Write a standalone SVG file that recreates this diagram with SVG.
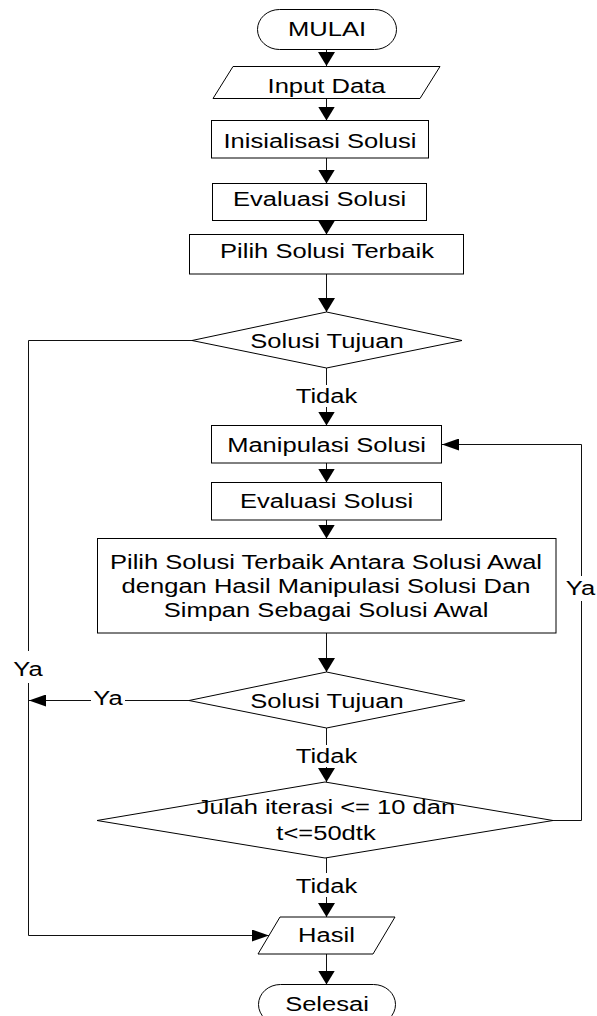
<svg xmlns="http://www.w3.org/2000/svg" width="597" height="1016" viewBox="0 0 597 1016">
<style>
.s{fill:#fff;stroke:#000;stroke-width:1}
.c{fill:none;stroke:#111;stroke-width:1}
.cd{marker-end:url(#ad)}
.ch{marker-end:url(#ah)}
text{font-family:"Liberation Sans",Arial,sans-serif;font-size:19.5px;fill:#000;text-anchor:middle}
</style>
<defs>
<marker id="ad" markerUnits="userSpaceOnUse" markerWidth="14" markerHeight="17" viewBox="0 0 14 17" refX="14" refY="8.5" orient="auto"><path d="M0,0 L14,8.5 L0,17 z" fill="#000"/></marker>
<marker id="ah" markerUnits="userSpaceOnUse" markerWidth="17" markerHeight="12" viewBox="0 0 17 12" refX="17" refY="6" orient="auto"><path d="M0,0 L17,6 L0,12 z" fill="#000"/></marker>
</defs>
<rect width="597" height="1016" fill="#fff"/>
<g id="connectors">
<path class="c cd" d="M326.5,49 V66"/>
<path class="c cd" d="M326.5,98 V120.5"/>
<path class="c cd" d="M326.5,158 V183.5"/>
<path class="c cd" d="M326.5,221 V234.5"/>
<path class="c cd" d="M326.5,274 V312"/>
<path class="c cd" d="M326.5,368 V385 M326.5,407 V425.5"/>
<path class="c cd" d="M326.5,463 V482.5"/>
<path class="c cd" d="M326.5,520 V538.5"/>
<path class="c cd" d="M326.5,633 V672"/>
<path class="c cd" d="M326.5,728 V745 M326.5,767 V782"/>
<path class="c cd" d="M326.5,858 V873 M326.5,897 V917"/>
<path class="c cd" d="M326.5,954 V984.5"/>
<path class="c ch" d="M192,340.5 H28.5 V651 M28.5,683 V935.5 H269"/>
<path class="c ch" d="M189,700.5 H125 M91,700.5 H29"/>
<path class="c ch" d="M553,820.5 H581.5 V601 M581.5,576 V444.5 H442"/>
<text transform="translate(326.5 403) scale(1.31 1)">Tidak</text>
<text transform="translate(326.5 763) scale(1.31 1)">Tidak</text>
<text transform="translate(326.5 893) scale(1.31 1)">Tidak</text>
<text transform="translate(28 676) scale(1.31 1)">Ya</text>
<text transform="translate(108 705) scale(1.31 1)">Ya</text>
<text transform="translate(580.5 595) scale(1.31 1)">Ya</text>
</g>
<g id="mulai">
<rect class="s" x="257.5" y="9.5" width="139" height="40" rx="22" ry="20"/>
<text transform="translate(327 35.5) scale(1.31 1)">MULAI</text>
</g>
<g id="input-data">
<polygon class="s" points="233,66.5 440,66.5 420,98.5 213,98.5"/>
<text transform="translate(326.5 92.5) scale(1.31 1)">Input Data</text>
</g>
<g id="inisialisasi">
<rect class="s" x="211.5" y="120.5" width="217" height="37.5"/>
<text transform="translate(320 148) scale(1.31 1)">Inisialisasi Solusi</text>
</g>
<g id="evaluasi1">
<rect class="s" x="212.5" y="183.5" width="214" height="37"/>
<text transform="translate(319.5 205.5) scale(1.31 1)">Evaluasi Solusi</text>
</g>
<g id="pilih">
<rect class="s" x="189.5" y="234.5" width="274" height="39.5"/>
<text transform="translate(327 257.5) scale(1.31 1)">Pilih Solusi Terbaik</text>
</g>
<g id="tujuan1">
<polygon class="s" points="326.5,312 462,340.5 326.5,368 192,340.5"/>
<text transform="translate(327 347.5) scale(1.31 1)">Solusi Tujuan</text>
</g>
<g id="manipulasi">
<rect class="s" x="211.5" y="425.5" width="230" height="37.5"/>
<text transform="translate(326.5 452) scale(1.31 1)">Manipulasi Solusi</text>
</g>
<g id="evaluasi2">
<rect class="s" x="211.5" y="482.5" width="230" height="37.5"/>
<text transform="translate(326.5 507.5) scale(1.31 1)">Evaluasi Solusi</text>
</g>
<g id="pilih-antara">
<rect class="s" x="97.5" y="538.5" width="458.5" height="94.5"/>
<text transform="translate(326 568.5) scale(1.31 1)">Pilih Solusi Terbaik Antara Solusi Awal</text>
<text transform="translate(326 592.5) scale(1.31 1)">dengan Hasil Manipulasi Solusi Dan</text>
<text transform="translate(326 616.5) scale(1.31 1)">Simpan Sebagai Solusi Awal</text>
</g>
<g id="tujuan2">
<polygon class="s" points="326.5,672 465,700.5 326.5,728 189,700.5"/>
<text transform="translate(327 707.5) scale(1.31 1)">Solusi Tujuan</text>
</g>
<g id="iterasi">
<polygon class="s" points="325,782 553,820.5 325,858 97,820.5"/>
<text transform="translate(326 813.5) scale(1.31 1)">Julah iterasi &lt;= 10 dan</text>
<text transform="translate(326 839.5) scale(1.31 1)">t&lt;=50dtk</text>
</g>
<g id="hasil">
<polygon class="s" points="280,917 395,917 373,954 258,954"/>
<text transform="translate(326.5 942) scale(1.31 1)">Hasil</text>
</g>
<g id="selesai">
<rect class="s" x="258.5" y="984.5" width="137" height="40" rx="22" ry="20"/>
<text transform="translate(327 1010.5) scale(1.31 1)">Selesai</text>
</g>
</svg>
